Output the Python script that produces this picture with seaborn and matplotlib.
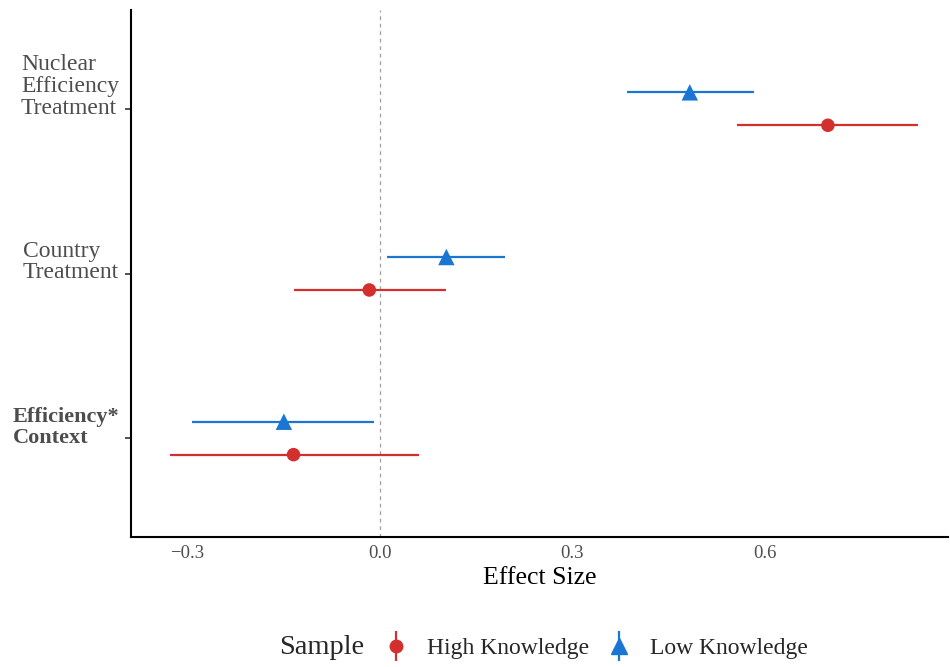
import matplotlib
matplotlib.use("Agg")
import matplotlib.pyplot as plt
import matplotlib.transforms as mtransforms
from matplotlib.lines import Line2D
from matplotlib.legend_handler import HandlerTuple
import seaborn as sns
import pandas as pd

# Treatment effects by sample, with 95% intervals
terms = ["Nuclear\nEfficiency\nTreatment", "Country\nTreatment", "Efficiency*\nContext"]
samples = ["High Knowledge", "Low Knowledge"]
high_est = [0.698, -0.016, -0.134]
high_lo = [0.556, -0.134, -0.327]
high_hi = [0.838, 0.103, 0.061]
low_est = [0.483, 0.104, -0.149]
low_lo = [0.386, 0.012, -0.292]
low_hi = [0.583, 0.196, -0.008]

colors = {"High Knowledge": "#D32F2F", "Low Knowledge": "#1976D2"}
markers = {"High Knowledge": "o", "Low Knowledge": "^"}
point_size = {"High Knowledge": 95, "Low Knowledge": 140}

rows = []
n = len(terms)
for i, t in enumerate(terms):
    base = n - i  # first term sits at the top
    rows.append(dict(term=t, sample="High Knowledge", est=high_est[i], lo=high_lo[i], hi=high_hi[i], y=base - 0.1))
    rows.append(dict(term=t, sample="Low Knowledge", est=low_est[i], lo=low_lo[i], hi=low_hi[i], y=base + 0.1))
df = pd.DataFrame(rows)

sns.set_theme(style="white")
plt.rcParams["font.family"] = ["Liberation Serif", "DejaVu Serif"]

fig = plt.figure(figsize=(9.5, 6.67), dpi=100)
ax = fig.add_axes([131 / 950, 1 - 537 / 667, (948 - 131) / 950, (537 - 10) / 667])

ax.axvline(0, color="#A0A0A0", lw=0.9, ls=(0, (3, 3)), zorder=0)

for s in samples:
    sub = df[df["sample"] == s]
    ax.hlines(sub["y"], sub["lo"], sub["hi"], color=colors[s], lw=1.6, zorder=2)
    sns.scatterplot(data=sub, x="est", y="y", color=colors[s], marker=markers[s],
                    s=point_size[s], edgecolor="none", legend=False, ax=ax, zorder=3)

ax.set_xlim(-0.387, 0.885)
ax.set_ylim(0.4, 3.6)
ax.set_xticks([-0.3, 0.0, 0.3, 0.6])
ax.set_xticklabels(["\u22120.3", "0.0", "0.3", "0.6"])
ticks_y = [n - i for i in range(n)]
ax.set_yticks(ticks_y)
ax.set_yticklabels([])
ax.tick_params(axis="x", length=0, labelsize=13.5, labelcolor="#4D4D4D", pad=6)
ax.tick_params(axis="y", length=4.5, width=1.2, color="#333333", left=True)
ax.set_xlabel("Effect Size", fontsize=18.5, color="black", labelpad=3)
ax.set_ylabel("")

# term labels: last line centred on the tick, lines flush left
lab_tr = mtransforms.blended_transform_factory(ax.transAxes, ax.transData) + \
    mtransforms.ScaledTranslation(-12 / 100, -10 / 100, fig.dpi_scale_trans)
for i, (t, yv) in enumerate(zip(terms, ticks_y)):
    bold = i == 2
    ax.text(0, yv, t, transform=lab_tr, ha="right", va="bottom", multialignment="left",
            fontsize=16 if bold else 17, color="#4D4D4D", linespacing=1.1 if bold else 1.05,
            fontweight="bold" if bold else "normal")

for side in ["top", "right"]:
    ax.spines[side].set_visible(False)
for side in ["left", "bottom"]:
    ax.spines[side].set_color("black")
    ax.spines[side].set_linewidth(1.5)

handles = []
for s in samples:
    bar = Line2D([], [], marker="|", markersize=22, markeredgewidth=1.6, color=colors[s], ls="none")
    pt = Line2D([], [], marker=markers[s], markersize=9 if s == "High Knowledge" else 11,
                color=colors[s], ls="none")
    handles.append((bar, pt))

fig.text(322 / 950, 1 - 648 / 667, "Sample", fontsize=20.5, ha="center", va="center")
fig.legend(handles, samples, handler_map={tuple: HandlerTuple(ndivide=1)},
           loc="center", bbox_to_anchor=(596 / 950, 1 - 648 / 667), ncol=2,
           frameon=False, fontsize=17, handlelength=1.0, handletextpad=0.81,
           columnspacing=0.8, borderpad=0.2)

fig.savefig("out.png", dpi=100)
